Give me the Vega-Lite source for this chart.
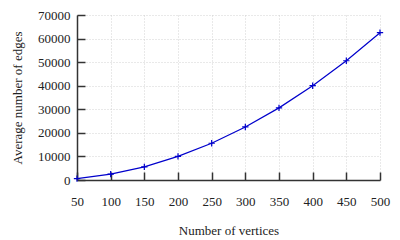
{
  "$schema": "https://vega.github.io/schema/vega-lite/v6.json",
  "width": 303,
  "height": 165,
  "autosize": {"type": "none"},
  "padding": {"left": 77, "top": 15, "right": 20, "bottom": 60},
  "background": "white",
  "config": {
    "view": {"stroke": null},
    "font": "Liberation Serif",
    "axis": {
      "labelFont": "Liberation Serif, Times New Roman, serif",
      "titleFont": "Liberation Serif, Times New Roman, serif",
      "labelFontSize": 13,
      "titleFontSize": 13,
      "labelColor": "#222",
      "titleColor": "#222",
      "titleFontWeight": "normal",
      "domainColor": "#333",
      "domainWidth": 1.5,
      "tickColor": "#333",
      "tickWidth": 1.5,
      "tickSize": -8,
      "labelFlush": false,
      "labelOverlap": false,
      "gridColor": "#c8c8c8",
      "gridDash": [1, 2],
      "gridWidth": 0.8
    }
  },
  "data": {
    "values": [
      {"vertices": 50, "edges": 620},
      {"vertices": 100, "edges": 2500},
      {"vertices": 150, "edges": 5600},
      {"vertices": 200, "edges": 10000},
      {"vertices": 250, "edges": 15600},
      {"vertices": 300, "edges": 22500},
      {"vertices": 350, "edges": 30600},
      {"vertices": 400, "edges": 40000},
      {"vertices": 450, "edges": 50600},
      {"vertices": 500, "edges": 62500}
    ]
  },
  "encoding": {
    "x": {
      "field": "vertices",
      "type": "quantitative",
      "scale": {"domain": [50, 500], "nice": false, "zero": false},
      "axis": {
        "title": "Number of vertices",
        "values": [50, 100, 150, 200, 250, 300, 350, 400, 450, 500],
        "labelPadding": 23,
        "titlePadding": 16
      }
    },
    "y": {
      "field": "edges",
      "type": "quantitative",
      "scale": {"domain": [0, 70000], "nice": false},
      "axis": {
        "title": "Average number of edges",
        "values": [0, 10000, 20000, 30000, 40000, 50000, 60000, 70000],
        "format": "d",
        "labelPadding": 15,
        "titlePadding": 13
      }
    }
  },
  "layer": [
    {
      "mark": {"type": "line", "color": "#0000cc", "strokeWidth": 1.2}
    },
    {
      "mark": {
        "type": "point",
        "shape": "M-1,0L1,0M0,-1L0,1",
        "size": 40,
        "filled": false,
        "stroke": "#0000cc",
        "strokeWidth": 1.2,
        "opacity": 1
      }
    }
  ]
}
